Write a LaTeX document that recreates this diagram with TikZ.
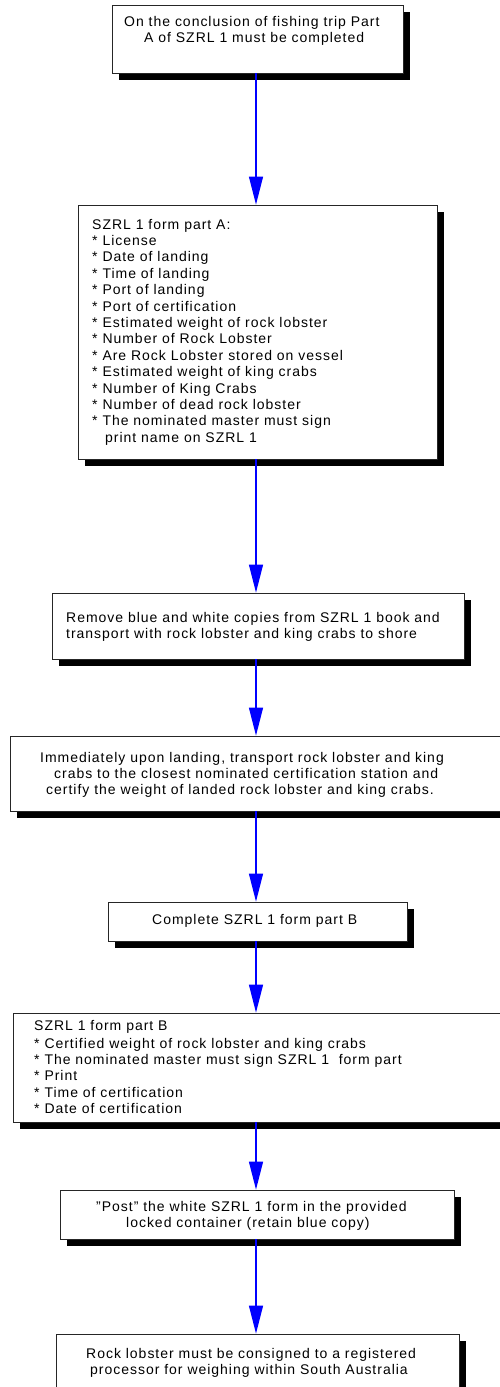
\documentclass[tikz,border=0pt]{standalone}
\usepackage{fontspec}
\setmainfont[LetterSpace=7]{Liberation Sans}
\usetikzlibrary{arrows.meta,shadows}
\begin{document}
\begin{tikzpicture}[x=1pt,y=-1pt,
  box/.style={draw=black!85,line width=0.8pt,fill=white,rectangle,inner sep=0pt,
    drop shadow={shadow xshift=7pt,shadow yshift=-7pt,fill=black,opacity=1}},
  txt/.style={inner sep=0pt,anchor=north west,align=left,font=\fontsize{14}{16.4}\selectfont},
  arr/.style={draw=blue,line width=1.3pt,-{Triangle[length=28pt,width=14pt]},fill=blue,shorten >=0pt}
]
\useasboundingbox (0,0) rectangle (500,1387);
\clip (0,0) rectangle (500,1387);
\node[box,minimum width=291pt,minimum height=68pt] (b1) at (257.5,39) {};
\node[box,minimum width=359pt,minimum height=254pt] (b2) at (257.5,332) {};
\node[box,minimum width=412pt,minimum height=66pt] (b3) at (258,626) {};
\node[box,minimum width=494pt,minimum height=75pt] (b4) at (257,773.5) {};
\node[box,minimum width=299pt,minimum height=39pt] (b5) at (257.5,921.5) {};
\node[box,minimum width=489pt,minimum height=109pt] (b6) at (257.5,1067.5) {};
\node[box,minimum width=394pt,minimum height=49pt] (b7) at (257,1214.5) {};
\node[box,minimum width=403pt,minimum height=62pt] (b8) at (257.5,1365) {};

\node[txt] (t1) at (124,15.8) {On the conclusion of fishing trip Part\\\hspace*{20pt}A of SZRL 1 must be completed};
\node[txt] (t2) at (92,218.8) {SZRL 1 form part A:\\
* License\\
* Date of landing\\
* Time of landing\\
* Port of landing\\
* Port of certification\\
* Estimated weight of rock lobster\\
* Number of Rock Lobster\\
* Are Rock Lobster stored on vessel\\
* Estimated weight of king crabs\\
* Number of King Crabs\\
* Number of dead rock lobster\\
* The nominated master must sign\\
\hspace*{13pt}print name on SZRL 1};
\node[txt] (t3) at (66,611.8) {Remove blue and white copies from SZRL 1 book and\\transport with rock lobster and king crabs to shore};
\node[txt] (t4) at (40,751.8) {Immediately upon landing, transport rock lobster and king\\\hspace*{14pt}crabs to the closest nominated certification station and\\\hspace*{6pt}certify the weight of landed rock lobster and king crabs.};
\node[txt] (t5) at (152,913.8) {Complete SZRL 1 form part B};
\node[txt] (t6) at (34,1019.8) {SZRL 1 form part B\\[1.6pt]
* Certified weight of rock lobster and king crabs\\
* The nominated master must sign SZRL 1 \ form part\\
* Print\\
* Time of certification\\
* Date of certification};
\node[txt] (t7) at (96,1200.8) {\symbol{34}Post\symbol{34} the white SZRL 1 form in the provided\\\hspace*{30pt}locked container (retain blue copy)};
\node[txt] (t8) at (86,1347.8) {Rock lobster must be consigned to a registered\\\hspace*{4pt}processor for weighing within South Australia};

\draw[arr] (b1.south -| 256,0) -- (b2.north -| 256,0);
\draw[arr] (b2.south -| 256,0) -- (b3.north -| 256,0);
\draw[arr] (b3.south -| 256,0) -- (b4.north -| 256,0);
\draw[arr] (b4.south -| 256,0) -- (b5.north -| 256,0);
\draw[arr] (b5.south -| 256,0) -- (b6.north -| 256,0);
\draw[arr] (b6.south -| 256,0) -- (b7.north -| 256,0);
\draw[arr] (b7.south -| 256,0) -- (b8.north -| 256,0);
\end{tikzpicture}
\end{document}
